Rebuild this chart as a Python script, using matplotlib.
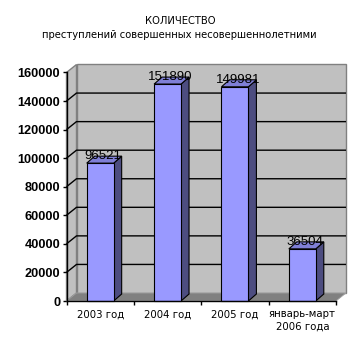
import matplotlib
matplotlib.use("Agg")
import matplotlib.pyplot as plt
from matplotlib.patches import Polygon
import numpy as np

categories = ["2003 год", "2004 год", "2005 год", "январь-март\n2006 года"]
values = [96521, 151890, 149981, 36504]
yticks = [0, 20000, 40000, 60000, 80000, 100000, 120000, 140000, 160000]
title1 = "КОЛИЧЕСТВО"
title2 = "преступлений совершенных несовершеннолетними"

W_PX, H_PX = 362, 347
DPI = 100
fig = plt.figure(figsize=(W_PX / DPI, H_PX / DPI), dpi=DPI)
fig.patch.set_facecolor("white")

x0, x1 = 66.5, 336.0
y0, y1 = 301.0, 72.5
ax = fig.add_axes([x0 / W_PX, (H_PX - y0) / H_PX, (x1 - x0) / W_PX, (y0 - y1) / H_PX])
ax.set_xlim(-0.5, len(categories) - 0.5)
ax.set_ylim(0, yticks[-1])
ax.patch.set_visible(False)

DX, DY = 10, 8      # wall depth in pixels
BDX, BDY = 8, 7     # bar depth in pixels


def shift(x, y, dx, dy):
    d = ax.transData.transform((x, y))
    return tuple(ax.transData.inverted().transform((d[0] + dx, d[1] + dy)))


def back(x, y):
    return shift(x, y, DX, DY)


xl, xr = -0.5, len(categories) - 0.5
ytop = yticks[-1]

# side wall
ax.add_patch(Polygon([(xl, 0), (xl, ytop), back(xl, ytop), back(xl, 0)],
                     closed=True, fc="#C0C0C0", ec="#808080", lw=1, clip_on=False, zorder=1))
# back wall
ax.add_patch(Polygon([back(xl, 0), back(xr, 0), back(xr, ytop), back(xl, ytop)],
                     closed=True, fc="#C0C0C0", ec="#808080", lw=1, clip_on=False, zorder=1))
# gridlines
for v in yticks[1:-1]:
    bl = back(xl, v)
    br = back(xr, v)
    ax.plot([xl, bl[0], br[0]], [v, bl[1], br[1]], color="black", lw=1,
            clip_on=False, zorder=2, solid_capstyle="butt")
# floor
ax.add_patch(Polygon([(xl, 0), (xr, 0), back(xr, 0), back(xl, 0)],
                     closed=True, fc="#808080", ec="#A0A0A0", lw=0.6, clip_on=False, zorder=3))

# bars
xs = np.arange(len(categories))
bw = 0.4
ax.bar(xs, values, width=bw, color="#9999FF", edgecolor="black", lw=0.8, zorder=5, clip_on=False)
for x, v in zip(xs, values):
    r = x + bw / 2
    l = x - bw / 2
    ax.add_patch(Polygon([(r, 0), (r, v), shift(r, v, BDX, BDY), shift(r, 0, BDX, BDY)],
                         closed=True, fc="#4D4D80", ec="black", lw=0.8, clip_on=False, zorder=4))
    ax.add_patch(Polygon([(l, v), (r, v), shift(r, v, BDX, BDY), shift(l, v, BDX, BDY)],
                         closed=True, fc="#7F7FD6", ec="black", lw=0.8, clip_on=False, zorder=4))
    ax.annotate(str(v), xy=(x, v), xytext=(3, 7), textcoords="offset pixels",
                ha="center", va="center", fontsize=9.5, family="Liberation Sans",
                color="black", zorder=7, annotation_clip=False)

# axes styling
for s in ["top", "right"]:
    ax.spines[s].set_visible(False)
for s in ["left", "bottom"]:
    ax.spines[s].set_color("black")
    ax.spines[s].set_linewidth(1)
    ax.spines[s].set_zorder(6)

ax.set_yticks(yticks)
ax.set_yticklabels([str(t) for t in yticks], fontsize=9.2, family="Liberation Sans", fontweight="bold")
ax.tick_params(axis="y", direction="out", length=3, width=1, pad=1.5, color="black")

ax.set_xticks(np.arange(len(categories) + 1) - 0.5)
ax.set_xticklabels([])
ax.tick_params(axis="x", which="major", direction="out", length=3, width=1, color="black")
ax.set_xticks(xs, minor=True)
ax.set_xticklabels(categories, minor=True, fontsize=7.3, family="DejaVu Sans", linespacing=1.35)
ax.tick_params(axis="x", which="minor", length=0, pad=6)
for lab in ax.get_xticklabels(minor=True):
    lab.set_verticalalignment("top")

fig.text(180 / W_PX, 1 - 20.7 / H_PX, title1, ha="center", va="center", fontsize=7.2, family="DejaVu Sans")
fig.text(179 / W_PX, 1 - 34.5 / H_PX, title2, ha="center", va="center", fontsize=7.2, family="DejaVu Sans")

fig.savefig("out.png", dpi=DPI)
